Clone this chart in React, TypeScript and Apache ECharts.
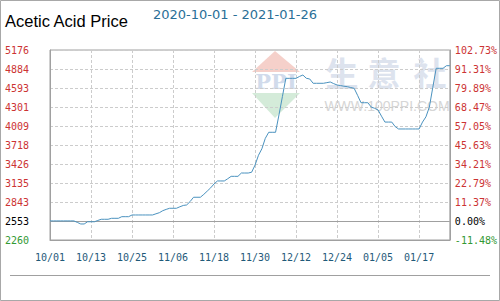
import React, { useEffect, useRef } from "react";
import * as echarts from "echarts";

const dates: string[] = [
  "10/01","10/02","10/03","10/04","10/05","10/06","10/07","10/08","10/09","10/10",
  "10/11","10/12","10/13","10/14","10/15","10/16","10/17","10/18","10/19","10/20",
  "10/21","10/22","10/23","10/24","10/25","10/26","10/27","10/28","10/29","10/30","10/31",
  "11/01","11/02","11/03","11/04","11/05","11/06","11/07","11/08","11/09","11/10",
  "11/11","11/12","11/13","11/14","11/15","11/16","11/17","11/18","11/19","11/20",
  "11/21","11/22","11/23","11/24","11/25","11/26","11/27","11/28","11/29","11/30",
  "12/01","12/02","12/03","12/04","12/05","12/06","12/07","12/08","12/09","12/10",
  "12/11","12/12","12/13","12/14","12/15","12/16","12/17","12/18","12/19","12/20",
  "12/21","12/22","12/23","12/24","12/25","12/26","12/27","12/28","12/29","12/30","12/31",
  "01/01","01/02","01/03","01/04","01/05","01/06","01/07","01/08","01/09","01/10",
  "01/11","01/12","01/13","01/14","01/15","01/16","01/17","01/18","01/19","01/20",
  "01/21","01/22","01/23","01/24","01/25","01/26",
];

const prices: number[] = [
  2553, 2553, 2553, 2553, 2553, 2553, 2553, 2553, 2530, 2506,
  2506, 2540, 2540, 2540, 2560, 2578, 2578, 2578, 2593, 2593,
  2593, 2618, 2618, 2618, 2644, 2644, 2644, 2644, 2644, 2644, 2644,
  2662, 2679, 2710, 2730, 2747, 2747, 2747, 2770, 2790, 2798,
  2850, 2916, 2916, 2916, 2960, 3010, 3060, 3120, 3166, 3166,
  3166, 3200, 3237, 3237, 3237, 3288, 3288, 3288, 3300, 3410,
  3560, 3660, 3820, 3913, 3913, 3913, 4180, 4460, 4741, 4741,
  4741, 4741, 4770, 4792, 4742, 4731, 4665, 4665, 4665, 4665,
  4675, 4685, 4660, 4639, 4630, 4620, 4613, 4600, 4588, 4480, 4367,
  4367, 4367, 4300, 4281, 4255, 4160, 4070, 4070, 4070, 4000,
  3964, 3964, 3964, 3964, 3964, 3964, 3964, 4070, 4150, 4300,
  4600, 4895, 4895, 4895, 4935, 4935,
];

const basePrice = 2553;
const priceMin = 2260;
const priceMax = 5176;

const leftTicks: string[] = ["2260","2553","2843","3135","3426","3718","4009","4301","4593","4884","5176"];
const rightTicks: string[] = ["-11.48%","0.00%","11.37%","22.79%","34.21%","45.63%","57.05%","68.47%","79.89%","91.31%","102.73%"];

const titleText = "Acetic Acid Price";
const rangeText = "2020-10-01 - 2021-01-26";

const RED = "#cc3333";
const GREEN = "#339933";
const BLACK = "#000000";
const tickColor = (i: number) => (i === 0 ? GREEN : i === 1 ? BLACK : RED);

export default function App() {
  const ref = useRef<HTMLDivElement>(null);
  useEffect(() => {
    if (!ref.current) return;
    const chart = echarts.init(ref.current, undefined, { renderer: "svg" });
    const mono = "DejaVu Sans Mono";
    const option: any = {
      animation: false,
      backgroundColor: "#ffffff",
      title: [
        {
          text: titleText,
          left: 5,
          top: 12,
          padding: 0,
          textStyle: { fontFamily: "Liberation Sans", fontSize: 16.5, fontWeight: "normal", color: "#000" },
        },
        {
          text: rangeText,
          left: 153,
          top: 8,
          padding: 0,
          textStyle: { fontFamily: "DejaVu Sans", fontSize: 13, fontWeight: "normal", color: "#2a6f97" },
        },
      ],
      grid: {
        left: 50,
        right: 50,
        top: 50,
        bottom: 61,
        show: true,
        borderColor: "#a0a0a0",
        borderWidth: 1,
      },
      graphic: [
        {
          type: "rect",
          shape: { x: 0.5, y: 0.5, width: 499, height: 300 },
          style: { fill: "none", stroke: "#a8a8a8", lineWidth: 1 },
          silent: true,
        },
        {
          type: "line",
          shape: { x1: 10, y1: 275.5, x2: 490, y2: 275.5 },
          style: { stroke: "#a0a0a0", lineWidth: 1 },
          silent: true,
        },
        {
          type: "group",
          silent: true,
          z: 1,
          children: [
            {
              type: "polygon",
              shape: { points: [[275, 51], [300, 72], [252, 72]] },
              style: { fill: "#f2c4bd", opacity: 0.8 },
            },
            {
              type: "text",
              x: 276,
              y: 81,
              style: {
                text: "PPI",
                fontFamily: "DejaVu Serif",
                fontWeight: "bold",
                fontSize: 21,
                fill: "#c9d5e8",
                align: "center",
                verticalAlign: "middle",
                opacity: 0.85,
              },
            },
            {
              type: "polygon",
              shape: { points: [[252, 93], [300, 93], [275, 118]] },
              style: { fill: "#cce8d2", opacity: 0.85 },
            },
            {
              type: "text",
              x: 342,
              y: 72,
              style: { text: "生", fontFamily: "Noto Sans CJK SC", fontWeight: "bold", fontSize: 33, fill: "#dde3ee", align: "center", verticalAlign: "middle" },
            },
            {
              type: "text",
              x: 384,
              y: 72,
              style: { text: "意", fontFamily: "Noto Sans CJK SC", fontWeight: "bold", fontSize: 33, fill: "#dde3ee", align: "center", verticalAlign: "middle" },
            },
            {
              type: "text",
              x: 430,
              y: 72,
              style: { text: "社", fontFamily: "Noto Sans CJK SC", fontWeight: "bold", fontSize: 33, fill: "#dde3ee", align: "center", verticalAlign: "middle" },
            },
            {
              type: "text",
              x: 387,
              y: 106,
              style: { text: "WWW.100PPI.COM", fontFamily: "Liberation Sans", fontSize: 14, fill: "#d6d6d6", align: "center", verticalAlign: "middle" },
            },
          ],
        },
      ],
      xAxis: {
        type: "category",
        data: dates,
        boundaryGap: false,
        axisLine: { show: true, lineStyle: { color: "#a0a0a0", width: 1 } },
        axisTick: { show: false },
        axisLabel: {
          interval: 11,
          margin: 12,
          color: "#1f5a7a",
          fontFamily: mono,
          fontSize: 10,
        },
        splitLine: {
          show: true,
          interval: 11,
          lineStyle: { color: "#cccccc", type: [3, 2], width: 1 },
        },
      },
      yAxis: [
        {
          type: "value",
          position: "left",
          min: 0,
          max: 10,
          interval: 1,
          axisLine: { show: true, lineStyle: { color: "#a0a0a0" } },
          axisTick: { show: false },
          axisLabel: {
            formatter: (v: number) => leftTicks[Math.round(v)],
            color: (_v: any, i: number) => tickColor(i),
            align: "left",
            margin: 45,
            fontFamily: mono,
            fontSize: 10,
          },
          splitLine: { show: true, lineStyle: { color: "#cccccc", type: [3, 2], width: 1 } },
        },
        {
          type: "value",
          position: "right",
          min: 0,
          max: 10,
          interval: 1,
          axisLine: { show: true, lineStyle: { color: "#a0a0a0" } },
          axisTick: { show: false },
          axisLabel: {
            formatter: (v: number) => rightTicks[Math.round(v)],
            color: (_v: any, i: number) => tickColor(i),
            align: "left",
            margin: 5,
            fontFamily: mono,
            fontSize: 10,
          },
          splitLine: { show: false },
        },
        {
          type: "value",
          show: false,
          min: priceMin,
          max: priceMax,
          splitLine: { show: false },
        },
      ],
      series: [
        {
          type: "line",
          yAxisIndex: 2,
          data: prices,
          symbol: "none",
          z: 5,
          lineStyle: { color: "#4a92bf", width: 1 },
          markLine: {
            silent: true,
            symbol: "none",
            label: { show: false },
            lineStyle: { color: "#a0a0a0", type: "solid", width: 1 },
            data: [{ yAxis: basePrice }],
          },
        },
      ],
    };
    chart.setOption(option);
    return () => chart.dispose();
  }, []);
  return (
    <div
      ref={ref}
      style={{ position: "absolute", left: 0, top: 0, width: 500, height: 301 }}
    />
  );
}
